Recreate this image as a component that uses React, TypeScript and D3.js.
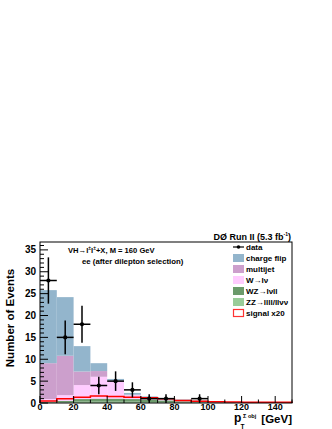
import React from "react";
import * as d3 from "d3";

const binEdges = [0, 10, 20, 30, 40, 50, 60, 70, 80, 90, 100, 110, 120, 130, 140];
const zz = [0.1, 0.2, 0.3, 0.3, 0.3, 0.3, 0.2, 0.2, 0.1, 0.1, 0.05, 0.05, 0.03, 0.03, 0.02];
const wz = [0.2, 0.3, 0.6, 0.7, 0.7, 0.6, 0.6, 0.4, 0.3, 0.2, 0.1, 0.1, 0.08, 0.06, 0.05];
const wlnu = [0.6, 1.3, 3.2, 5.0, 4.0, 0.9, 0.3, 0.2, 0.1, 0.05, 0.02, 0.02, 0.02, 0.02, 0.02];
const multijet = [8.2, 9.0, 3.1, 1.3, 0.1, 0.1, 0.1, 0.1, 0.1, 0.0, 0, 0, 0, 0, 0];
const chargeFlip = [16.7, 13.4, 5.8, 1.8, 0.4, 0.4, 0.3, 0.2, 0.2, 0.2, 0.05, 0.05, 0.05, 0.05, 0.05];
const dataCounts = [28, 15, 18, 4, 5, 3, 1, 1, 0, 1, 0, 0, 0, 0, 0];
const signal20 = [0.45, 1.0, 1.3, 1.6, 1.5, 1.3, 1.2, 1.0, 0.6, 0.4, 0.3, 0.25, 0.2, 0.2, 0.15];
const xTicks = [0, 20, 40, 60, 80, 100, 120, 140];
const yTicks = [0, 5, 10, 15, 20, 25, 30, 35];

const seriesList = [
  { name: "ZZ", values: zz, color: "#99cc99" },
  { name: "WZ", values: wz, color: "#6b9a6b" },
  { name: "W", values: wlnu, color: "#ffccff" },
  { name: "multijet", values: multijet, color: "#cc9fcc" },
  { name: "chargeflip", values: chargeFlip, color: "#93b5cc" },
];

const BIN_W = 10;
const L = 40, R = 292, T = 242, B = 403;

export default function App() {
  const x = d3.scaleLinear().domain([0, 150]).range([L, R]);
  const y = d3.scaleLinear().domain([0, 36.8]).range([B, T]);
  const font = "'Liberation Sans', Arial, Helvetica, sans-serif";

  const cum: [number, number][][] = [];
  let base = binEdges.map(() => 0);
  seriesList.forEach((s) => {
    const top = base.map((b, i) => b + s.values[i]);
    cum.push(base.map((b, i) => [b, top[i]] as [number, number]));
    base = top;
  });

  const sigPath = (() => {
    let p = `M${x(binEdges[0])},${y(0)}`;
    binEdges.forEach((e, i) => {
      p += `L${x(e)},${y(signal20[i])}L${x(e + BIN_W)},${y(signal20[i])}`;
    });
    p += `L${x(150)},${y(0)}`;
    return p;
  })();

  const minorY = d3.range(0, 37, 1);
  const minorX = d3.range(0, 151, 10);

  const legendItems = [
    { label: "charge flip", color: "#93b5cc" },
    { label: "multijet", color: "#cc9fcc" },
    { label: "W\u2192l\u03bd", color: "#ffccff" },
    { label: "WZ\u2192l\u03bdll", color: "#6b9a6b" },
    { label: "ZZ\u2192llll/ll\u03bd\u03bd", color: "#99cc99" },
  ];
  const legX = 233, legY0 = 247, legDy = 11;

  return (
    <svg width={332} height={429} style={{ position: "absolute", left: 0, top: 0 }} fontFamily={font}>
      <rect x={0} y={0} width={332} height={429} fill="#fff" />
      {seriesList.map((s, si) => (
        <g key={s.name}>
          {binEdges.map((e, i) => {
            const [b0, b1] = cum[si][i];
            if (b1 - b0 <= 0) return null;
            return (
              <rect key={i} x={x(e)} y={y(b1)} width={x(e + BIN_W) - x(e)} height={y(b0) - y(b1)} fill={s.color} />
            );
          })}
        </g>
      ))}
      <path d={sigPath} fill="none" stroke="#ff0000" strokeWidth={1.5} />
      {binEdges.map((e, i) => {
        const n = dataCounts[i];
        if (n <= 0) return null;
        const cx = x(e + BIN_W / 2);
        const err = Math.sqrt(n);
        return (
          <g key={i}>
            <line x1={x(e)} x2={x(e + BIN_W)} y1={y(n)} y2={y(n)} stroke="#000" strokeWidth={1.5} />
            <line x1={cx} x2={cx} y1={y(n + err)} y2={y(Math.max(0, n - err))} stroke="#000" strokeWidth={1.5} />
            <circle cx={cx} cy={y(n)} r={2.1} fill="#000" />
          </g>
        );
      })}
      <rect x={L} y={T} width={R - L} height={B - T} fill="none" stroke="#000" strokeWidth={1} />
      {minorY.map((v) => (
        <line key={v} x1={L} x2={L + (v % 5 === 0 ? 8 : 4)} y1={y(v)} y2={y(v)} stroke="#000" strokeWidth={1} />
      ))}
      {yTicks.map((v) => (
        <text key={v} x={36} y={y(v) + 3.5} textAnchor="end" fontSize={10} fontWeight="bold">{v}</text>
      ))}
      {minorX.map((v) => (
        <line key={v} x1={x(v)} x2={x(v)} y1={B} y2={B - (v % 20 === 0 ? 7 : 3.5)} stroke="#000" strokeWidth={1} />
      ))}
      {xTicks.map((v) => (
        <text key={v} x={x(v)} y={B + 7} textAnchor="middle" fontSize={9} fontWeight="bold">{v}</text>
      ))}
      <text transform={`translate(14,318) rotate(-90)`} textAnchor="middle" fontSize={11.5} fontWeight="bold">Number of Events</text>
      <text x={234} y={422} fontSize={12} fontWeight="bold">p</text>
      <text x={240.5} y={428.5} fontSize={6.5} fontWeight="bold">T</text>
      <text x={243} y={417.5} fontSize={5.6} fontWeight="bold">{"\u03a3 obj"}</text>
      <text x={292} y={422.5} textAnchor="end" fontSize={11.5} fontWeight="bold">[GeV]</text>
      <text x={291} y={239.5} textAnchor="end" fontSize={9} fontWeight="bold">
        DØ Run II (5.3 fb<tspan fontSize={5} dy={-3.5}>-1</tspan><tspan dy={3.5}>)</tspan>
      </text>
      <text x={68} y={253} fontSize={7.6} fontWeight="bold">
        VH{"\u2192"}l<tspan fontSize={5} dy={-3}>±</tspan><tspan dy={3}>l</tspan><tspan fontSize={5} dy={-3}>±</tspan><tspan dy={3}>+X, M = 160 GeV</tspan>
      </text>
      <text x={82} y={263.5} fontSize={7.8} fontWeight="bold">{"ee  (after dilepton selection)"}</text>
      <g>
        <line x1={legX} x2={legX + 11} y1={legY0} y2={legY0} stroke="#000" strokeWidth={1.2} />
        <circle cx={legX + 5.5} cy={legY0} r={1.8} fill="#000" />
        <text x={legX + 13} y={legY0 + 3} fontSize={8} fontWeight="bold">data</text>
        {legendItems.map((it, i) => {
          const cy = legY0 + legDy * (i + 1);
          return (
            <g key={it.label}>
              <rect x={legX} y={cy - 4} width={11} height={8} fill={it.color} />
              <text x={legX + 13} y={cy + 3} fontSize={8} fontWeight="bold">{it.label}</text>
            </g>
          );
        })}
        {(() => {
          const cy = legY0 + legDy * 6;
          return (
            <g>
              <rect x={legX + 0.5} y={cy - 3.5} width={10} height={7} fill="#fff" stroke="#ff3333" strokeWidth={1.2} />
              <text x={legX + 13} y={cy + 3} fontSize={8} fontWeight="bold">signal x20</text>
            </g>
          );
        })()}
      </g>
    </svg>
  );
}
